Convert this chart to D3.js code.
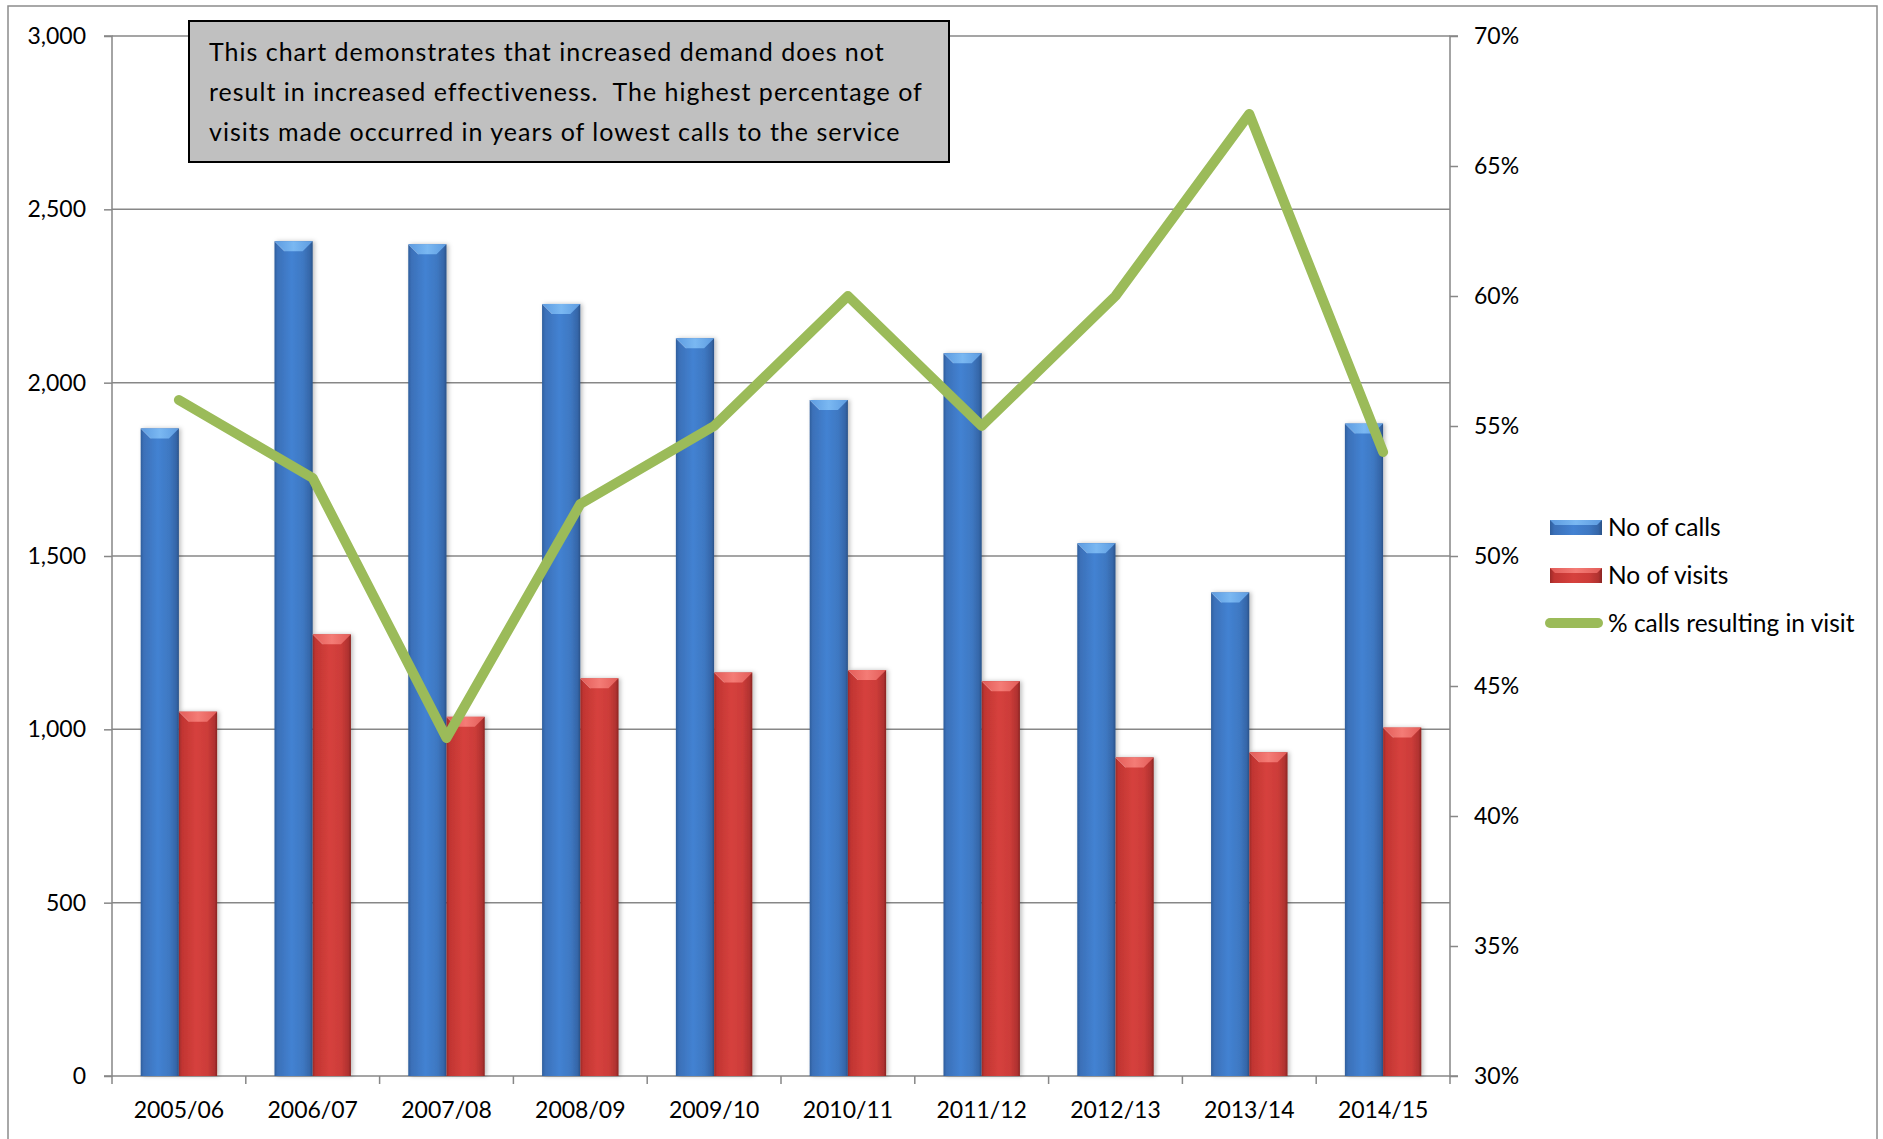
<!DOCTYPE html>
<html>
<head>
<meta charset="utf-8">
<script src="https://cdn.jsdelivr.net/npm/d3@7/dist/d3.min.js"></script>
<style>
  html, body { margin: 0; padding: 0; background: #fff; }
  svg { display: block; }
  text { font-family: Lato, "Open Sans", sans-serif; fill: #000; }
</style>
</head>
<body>
<svg id="chart" width="1883" height="1139"></svg>
<script>
// ---- Data ----
const categories = ["2005/06","2006/07","2007/08","2008/09","2009/10","2010/11","2011/12","2012/13","2013/14","2014/15"];
const calls  = [1868, 2408, 2399, 2227, 2128, 1950, 2085, 1537, 1395, 1882];
const visits = [1051, 1274, 1036, 1147, 1164, 1171, 1139, 919, 934, 1005];
const pctVisit = [0.56, 0.53, 0.43, 0.52, 0.55, 0.60, 0.55, 0.60, 0.67, 0.54];
const leftTicks = [0, 500, 1000, 1500, 2000, 2500, 3000];
const rightTicks = [0.30, 0.35, 0.40, 0.45, 0.50, 0.55, 0.60, 0.65, 0.70];
const seriesNames = ["No of calls", "No of visits", "% calls resulting in visit"];
const noteLines = [
  "This chart demonstrates that increased demand does not",
  "result in increased effectiveness.  The highest percentage of",
  "visits made occurred in years of lowest calls to the service"
];

// ---- Layout ----
const svg = d3.select("#chart");
const L = 112, R = 1450, T = 36, B = 1076;
const gridColor = "#878787";

// outer frame
svg.append("rect").attr("x", 8).attr("y", 6).attr("width", 1869).attr("height", 1150)
  .attr("fill", "#fff").attr("stroke", "#8c8c8c").attr("stroke-width", 1.5);

const x = d3.scaleBand().domain(categories).range([L, R]).paddingInner(0).paddingOuter(0);
const xs = d3.scaleBand().domain(["calls","visits"]).range([0, x.bandwidth()]).paddingInner(0).paddingOuter(0.75);
const y = d3.scaleLinear().domain([0, 3000]).range([B, T]);
const y2 = d3.scaleLinear().domain([0.30, 0.70]).range([B, T]);

// defs: gradients
const defs = svg.append("defs");
function hGrad(id, stops) {
  const g = defs.append("linearGradient").attr("id", id).attr("x1", "0%").attr("x2", "100%").attr("y1", "0%").attr("y2", "0%");
  stops.forEach(s => g.append("stop").attr("offset", s[0]).attr("stop-color", s[1]));
}
hGrad("gBlue", [["0%","#2f5e9c"],["8%","#3b70b8"],["45%","#4382d2"],["75%","#3e78c2"],["93%","#3566a8"],["100%","#2a5288"]]);
hGrad("gRed",  [["0%","#9c2a28"],["8%","#c13532"],["45%","#d6413d"],["75%","#cc3c39"],["93%","#b03230"],["100%","#8a2422"]]);
hGrad("gBlueTop", [["0%","#5d9be0"],["50%","#7ab8f2"],["100%","#5d9be0"]]);
hGrad("gRedTop",  [["0%","#e25c58"],["50%","#f47c76"],["100%","#e25c58"]]);
const sh = defs.append("filter").attr("id", "shadow").attr("x", "-20%").attr("y", "-5%").attr("width", "150%").attr("height", "110%");
sh.append("feDropShadow").attr("dx", 2).attr("dy", 0).attr("stdDeviation", 2).attr("flood-color", "#000").attr("flood-opacity", 0.25);

// gridlines
svg.append("g").selectAll("line").data(leftTicks.filter(d => d > 0)).join("line")
  .attr("x1", L).attr("x2", R).attr("y1", d => y(d)).attr("y2", d => y(d))
  .attr("stroke", gridColor).attr("stroke-width", 1.5);

// left axis
const gL = svg.append("g").attr("transform", `translate(${L},0)`)
  .call(d3.axisLeft(y).tickValues(leftTicks).tickFormat(d3.format(",")).tickSize(8).tickPadding(18));
gL.selectAll("path, line").attr("stroke", gridColor).attr("stroke-width", 1.5);
gL.selectAll("text").style("font-size", "23px").style("font-family", "Lato, sans-serif").attr("fill", "#000");
gL.select(".domain").attr("d", `M-8,${T}H0V${B}H-8`);

// right axis
const gR = svg.append("g").attr("transform", `translate(${R},0)`)
  .call(d3.axisRight(y2).tickValues(rightTicks).tickFormat(d3.format(".0%")).tickSize(8).tickPadding(16));
gR.selectAll("path, line").attr("stroke", gridColor).attr("stroke-width", 1.5);
gR.selectAll("text").style("font-size", "23px").style("font-family", "Lato, sans-serif").attr("fill", "#000");
gR.select(".domain").attr("d", `M8,${T}H0V${B}H8`);

// bottom axis (labels at centers, ticks at band boundaries)
const gB = svg.append("g").attr("transform", `translate(0,${B})`)
  .call(d3.axisBottom(x).tickSize(0).tickPadding(26));
gB.select(".domain").attr("d", `M${L},0H${R}`).attr("stroke", gridColor).attr("stroke-width", 1.5);
gB.selectAll("text").style("font-size", "23px").style("font-family", "Lato, sans-serif").attr("fill", "#000");
gB.append("g").selectAll("line").data(d3.range(categories.length + 1)).join("line")
  .attr("x1", i => L + i * x.step()).attr("x2", i => L + i * x.step())
  .attr("y1", 0).attr("y2", 8).attr("stroke", gridColor).attr("stroke-width", 1.5);

// bars
function drawBars(values, key, fill, topFill) {
  const g = svg.append("g");
  const bw = xs.bandwidth();
  const bev = 10;
  const grp = g.selectAll("g").data(values.map((v, i) => ({v, c: categories[i]}))).join("g")
    .attr("transform", d => `translate(${x(d.c) + xs(key)},0)`);
  grp.append("rect").attr("x", 0).attr("y", d => y(d.v)).attr("width", bw).attr("height", d => B - y(d.v))
    .attr("fill", `url(#${fill})`).attr("filter", "url(#shadow)");
  grp.append("path").attr("d", d => `M0,${y(d.v)}H${bw}L${bw - bev},${y(d.v) + bev}H${bev}Z`)
    .attr("fill", `url(#${topFill})`);
  grp.append("path").attr("d", d => `M0,${y(d.v)}L${bev},${y(d.v) + bev}`)
    .attr("stroke", "rgba(255,255,255,0.25)").attr("stroke-width", 1);
}
drawBars(calls, "calls", "gBlue", "gBlueTop");
drawBars(visits, "visits", "gRed", "gRedTop");

// line
const line = d3.line().x((d, i) => x(categories[i]) + x.bandwidth() / 2).y(d => y2(d));
svg.append("path").datum(pctVisit).attr("d", line)
  .attr("fill", "none").attr("stroke", "#9bbb59").attr("stroke-width", 10)
  .attr("stroke-linejoin", "round").attr("stroke-linecap", "round");

// annotation box
const box = svg.append("g");
box.append("rect").attr("x", 189).attr("y", 21).attr("width", 760).attr("height", 141)
  .attr("fill", "#c0c0c0").attr("stroke", "#000").attr("stroke-width", 2);
box.selectAll("text").data(noteLines).join("text")
  .attr("x", 209).attr("y", (d, i) => 61 + i * 40)
  .style("font-size", "25px").style("letter-spacing", "1px").style("white-space", "pre")
  .attr("xml:space", "preserve").text(d => d);

// legend
const lg = svg.append("g");
const legY = [527, 575, 623];
[["gBlue","gBlueTop"],["gRed","gRedTop"]].forEach((f, i) => {
  lg.append("rect").attr("x", 1550).attr("y", legY[i] - 7).attr("width", 52).attr("height", 15)
    .attr("fill", `url(#${f[0]})`);
  lg.append("path").attr("d", `M1550,${legY[i]-7}H1602L1597,${legY[i]-2}H1555Z`).attr("fill", `url(#${f[1]})`);
});
lg.append("line").attr("x1", 1550).attr("x2", 1598).attr("y1", legY[2]).attr("y2", legY[2])
  .attr("stroke", "#9bbb59").attr("stroke-width", 10).attr("stroke-linecap", "round");
lg.selectAll("text").data(seriesNames).join("text")
  .attr("x", 1608).attr("y", (d, i) => legY[i]).attr("dy", "0.35em")
  .style("font-size", "24.5px").text(d => d);
</script>
</body>
</html>
